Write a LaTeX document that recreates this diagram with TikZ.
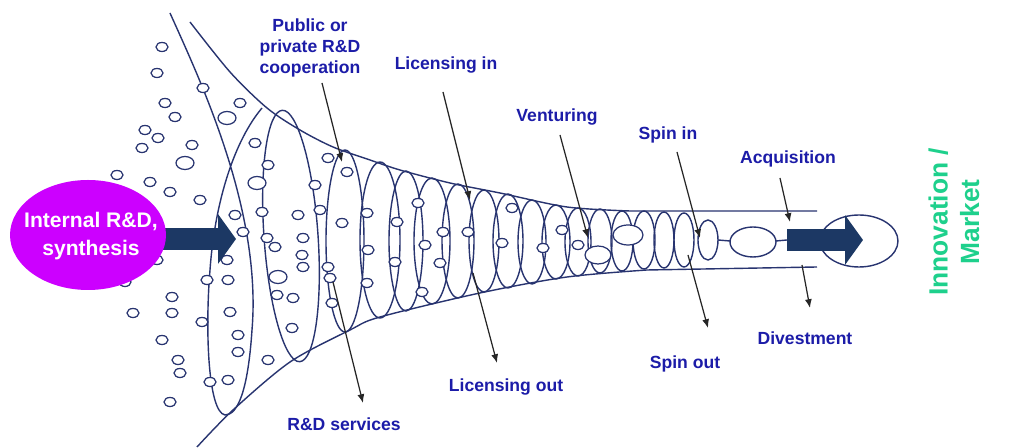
\documentclass[tikz,border=0pt]{standalone}
\usepackage{fontspec}
\setmainfont{Liberation Sans}
\usetikzlibrary{shapes.geometric,arrows.meta}

\definecolor{inkblue}{RGB}{40,52,112}
\definecolor{tagblue}{RGB}{28,28,168}
\definecolor{rdpurple}{RGB}{204,0,255}
\definecolor{navy}{RGB}{28,56,100}
\definecolor{mint}{RGB}{30,208,140}

\tikzset{
  coil/.style={draw=inkblue, line width=0.8pt},
  bubble/.style={draw=inkblue, line width=0.7pt, fill=white},
  tag/.style={text=tagblue, font=\bfseries\fontsize{10}{12}\selectfont, align=center, inner sep=1pt},
  pointer/.style={draw=black!85, line width=0.7pt, -{Latex[length=5pt,width=4pt]}},
  bigarrow/.style={draw=navy, line width=0.44cm, -{Triangle[length=0.36cm,width=0.98cm]}}
}

\begin{document}
\begin{tikzpicture}[x=0.02cm, y=-0.02cm]
    \useasboundingbox (0,0) rectangle (1009,448);
    \fill[white] (0,0) rectangle (1009,448);

    % funnel walls
    \draw[coil] plot[smooth] coordinates {(190,22) (230,72) (267,108) (300,130) (333,147) (370,160) (400,170) (450,183) (500,193) (567,207) (630,211)} -- (817,211);
    \draw[coil] plot[smooth] coordinates {(197,447) (233,410) (290,362) (350,330) (380,317) (480,293) (567,277) (647,270)} -- (817,267);

    % first open turn of the coil
    \draw[coil] (170,13) .. controls (200,80) and (262,210) .. (252,330)
        .. controls (248,390) and (238,415) .. (225,415)
        .. controls (208,412) and (205,330) .. (210,270)
        .. controls (215,200) and (235,140) .. (262,108);
    \draw[coil, rotate around={4:(291,236)}] (291,236) ellipse (27 and 126);
    \foreach \cx/\cy/\rx/\ry in {345/241/19/91, 380/240/20/78, 406/241/17/70, 432/241/18/63,
        458/241/16/57, 484/241/15/51, 508/241/15/47, 532/242/14/42, 556/242/14/37,
        578/242/13/34, 600/241/12/32, 622/241/11/30, 644/240/11/29, 664/240/10/28, 684/240/10/27}
        \draw[coil] (\cx,\cy) ellipse [x radius=\rx, y radius=\ry];

    % narrow tube
    \draw[coil] (708,240) ellipse (10 and 20);
    \draw[coil] (718,240) -- (730,241);
    \draw[coil] (753,242) ellipse (23 and 15);
    \draw[coil] (776,241) -- (787,240);

    % ideas
    \foreach \x/\y in {162/47, 157/73, 165/103, 175/117, 145/130, 158/138, 142/148, 192/145,
        117/175, 150/182, 170/192, 200/200, 203/88, 240/103, 255/143, 268/165, 315/185,
        347/172, 328/158, 235/215, 243/232, 262/212, 298/215, 320/210, 267/238, 275/247,
        303/238, 302/255, 303/267, 227/260, 207/280, 228/280, 342/223, 367/213, 368/250,
        367/283, 328/267, 330/278, 332/303, 277/295, 293/298, 292/328, 172/297, 172/313,
        133/313, 202/322, 230/312, 162/340, 238/335, 238/352, 178/360, 180/373, 268/360,
        210/382, 228/380, 170/402, 418/203, 397/222, 425/245, 395/262, 422/292, 443/232,
        468/232, 440/263, 512/208, 502/243, 543/248, 562/230, 578/245, 157/260, 125/282}
        \draw[bubble] (\x,\y) ellipse (6 and 4.5);
    \foreach \x/\y in {227/118, 185/163, 257/183, 278/277}
        \draw[bubble] (\x,\y) ellipse (9 and 6.5);
    \draw[bubble] (598,255) ellipse (13 and 9);
    \draw[bubble] (628,235) ellipse (15 and 10);

    % source and market
    \coordinate (rd-out) at (160,239);
    \coordinate (mouth) at (236,239);
    \coordinate (tube-out) at (787,240);
    \coordinate (market-in) at (863,240);
    \draw[bigarrow] (rd-out) -- (mouth);
    \fill[rdpurple] (88,235) ellipse (78 and 55);
    \node (internal) [text=white, align=center, font=\bfseries\fontsize{12}{15.5}\selectfont]
        at (91,236) {Internal R\&D,\\synthesis};
    \node (market) [ellipse, draw=inkblue, line width=0.8pt, minimum width=1.56cm, minimum height=1.04cm] at (859,241) {};
    \draw[bigarrow] (tube-out) -- (market-in);

    \node (market-text) [rotate=90, text=mint, align=center,
        font=\bfseries\fontsize{15}{18}\selectfont] at (954,222) {Innovation /\\Market};

    % channels
    \node[tag] (coop) at (310,48) {Public or\\private R\&D\\cooperation};
    \node[tag] (lic-in) at (446,65) {Licensing in};
    \node[tag] (venture) at (557,117) {Venturing};
    \node[tag] (spin-in) at (668,135) {Spin in};
    \node[tag] (acq) at (788,159) {Acquisition};
    \node[tag] (divest) at (805,338) {Divestment};
    \node[tag] (spin-out) at (685,364) {Spin out};
    \node[tag] (lic-out) at (506,387) {Licensing out};
    \node[tag] (rd-serv) at (344,424) {R\&D services};

    \foreach \n/\ax/\ay/\bx/\by in {coop/322/83/342/162, lic-in/443/92/470/200,
        venture/560/135/588/238, spin-in/677/152/700/238, acq/780/178/790/222,
        divest/802/265/810/308, spin-out/688/255/708/328, lic-out/473/273/497/363,
        rd-serv/333/282/363/403} {
        \coordinate (\n-from) at (\ax,\ay);
        \coordinate (\n-to) at (\bx,\by);
        \draw[pointer] (\n-from) -- (\n-to);
    }
\end{tikzpicture}
\end{document}
